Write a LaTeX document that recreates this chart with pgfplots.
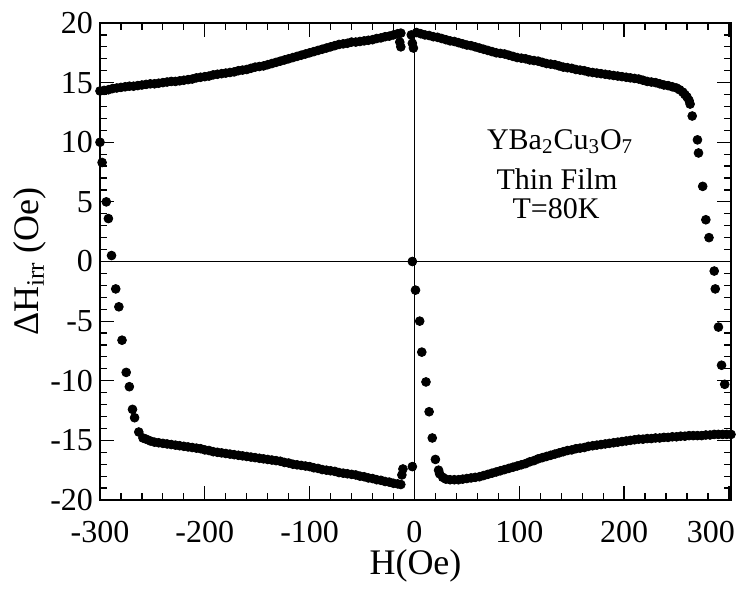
\documentclass[border=0pt]{standalone}
\usepackage{fontspec}
\setmainfont{Liberation Serif}
\usepackage{pgfplots}
\pgfplotsset{compat=1.18}
\begin{document}
\begin{tikzpicture}
\begin{axis}[
  scale only axis, width=315.5pt, height=238.5pt,
  xmin=-300, xmax=302, ymin=-20, ymax=20,
  xtick={-300,-200,...,300}, ytick={-20,-15,...,20},
  xticklabels={-300,-200,-100,0,100,200,300\hspace*{18pt}},
  minor x tick num=4, minor y tick num=4,
  tick align=inside, major tick length=7pt, minor tick length=3.5pt,
  axis line style={line width=0.8pt},
  every tick/.style={black, line width=0.6pt},
  /pgf/number format/assume math mode=true,
  ticklabel style={font=\fontsize{16}{19}\selectfont},
  xticklabel style={yshift=-7pt},
  xlabel={H(Oe)}, ylabel={ΔH\textsubscript{irr} (Oe)},
  label style={font=\fontsize{18}{21}\selectfont},
  xlabel style={at={(axis description cs:0.5,-0.138)}, anchor=center},
  ylabel style={at={(axis description cs:-0.111,0.5)}, anchor=center},
  clip=true,
]
\addplot[black, line width=0.5pt, forget plot] coordinates {(-300,0) (302,0)};
\addplot[black, line width=0.5pt, forget plot] coordinates {(0,-20) (0,20)};

% upper-left branch
\addplot[only marks, mark=*, mark size=2.2pt, black] coordinates {
(-300,14.3) (-296,14.35) (-292,14.4) (-288,14.5) (-284,14.55) (-280,14.6)
(-276,14.65) (-272,14.7) (-268,14.7) (-264,14.75) (-260,14.8) (-256,14.85)
(-252,14.9) (-248,14.9) (-244,14.95) (-240,15.0) (-236,15.05) (-232,15.1)
(-228,15.1) (-224,15.15) (-220,15.2) (-216,15.25) (-212,15.3) (-208,15.4)
(-204,15.45) (-200,15.5) (-196,15.55) (-192,15.65) (-188,15.7) (-184,15.75)
(-180,15.8) (-176,15.85) (-172,15.9) (-168,16.0) (-164,16.05) (-160,16.1)
(-156,16.2) (-152,16.3) (-148,16.35) (-144,16.4) (-140,16.5) (-136,16.6)
(-132,16.7) (-128,16.8) (-124,16.9) (-120,17.0) (-116,17.1) (-112,17.2)
(-108,17.3) (-104,17.4) (-100,17.5) (-96,17.6) (-92,17.7) (-88,17.8)
(-84,17.9) (-80,18.0) (-76,18.1) (-72,18.2) (-68,18.25) (-64,18.3)
(-60,18.4) (-56,18.4) (-52,18.45) (-48,18.5) (-44,18.55) (-40,18.6)
(-36,18.7) (-32,18.75) (-28,18.85) (-24,18.9) (-20,19.0) (-16,19.1) (-13,19.15)
(-13,18.0) (-14,18.4) (-3,19.0) (-2,18.3) (-1,17.9)
};
% upper-right branch and its drop
\addplot[only marks, mark=*, mark size=2.2pt, black] coordinates {
(2,19.2) (6,19.1) (10,19.0) (14,18.95) (18,18.85) (22,18.8) (26,18.7)
(30,18.6) (34,18.5) (38,18.45) (42,18.35) (46,18.25) (50,18.15) (54,18.1)
(58,18.0) (62,17.9) (66,17.8) (70,17.7) (74,17.6) (78,17.5) (82,17.45)
(86,17.4) (90,17.3) (94,17.2) (98,17.1) (102,17.05) (106,17.0) (110,16.9)
(114,16.85) (118,16.8) (122,16.7) (126,16.6) (130,16.55) (134,16.5)
(138,16.4) (142,16.3) (146,16.25) (150,16.2) (154,16.1) (158,16.05)
(162,16.0) (166,15.9) (170,15.85) (174,15.8) (178,15.75) (182,15.7)
(186,15.65) (190,15.6) (194,15.55) (198,15.5) (202,15.45) (206,15.4)
(210,15.35) (214,15.3) (218,15.2) (222,15.1) (226,15.05) (230,15.0)
(234,14.9) (238,14.8) (242,14.75) (246,14.65) (250,14.55) (253,14.4)
(256,14.2) (258,14.0) (260,13.8) (262,13.5) (263,13.2)
(265,12.2) (270,10.2) (271,9.1) (275,6.3) (278,3.5) (281,2.0)
(286,-0.8) (287,-2.3) (290,-5.5) (293,-8.7) (296,-10.3)
};
% lower-right branch
\addplot[only marks, mark=*, mark size=2.2pt, black] coordinates {
(-2,0) (1,-2.4) (5,-5.0) (7,-7.6) (11,-10.1) (14,-12.6) (17,-14.8)
(20,-16.6) (23,-17.5)
(24,-17.8) (27,-18.1) (30,-18.25) (34,-18.3) (38,-18.3) (42,-18.3)
(46,-18.25) (50,-18.2) (54,-18.15) (58,-18.1) (62,-18.05) (66,-17.95)
(70,-17.85) (74,-17.75) (78,-17.65) (82,-17.55) (86,-17.45) (90,-17.35)
(94,-17.25) (98,-17.15) (102,-17.05) (106,-16.95) (110,-16.8) (114,-16.7)
(118,-16.55) (122,-16.45) (126,-16.35) (130,-16.25) (134,-16.15) (138,-16.05)
(142,-15.95) (146,-15.85) (150,-15.8) (154,-15.7) (158,-15.65) (162,-15.6)
(166,-15.5) (170,-15.45) (174,-15.4) (178,-15.35) (182,-15.3) (186,-15.25)
(190,-15.2) (194,-15.15) (198,-15.1) (202,-15.05) (206,-15.0) (210,-14.95)
(214,-14.9) (218,-14.9) (222,-14.85) (226,-14.85) (230,-14.8) (234,-14.8)
(238,-14.75) (242,-14.75) (246,-14.7) (250,-14.7) (254,-14.65) (258,-14.65)
(262,-14.6) (266,-14.6) (270,-14.6) (274,-14.6) (278,-14.55) (282,-14.55)
(286,-14.5) (290,-14.5) (294,-14.5) (298,-14.5) (302,-14.5)
};
% lower-left branch and the drop from the upper-left
\addplot[only marks, mark=*, mark size=2.2pt, black] coordinates {
(-300,10.0) (-298,8.3) (-294,5.0) (-292,3.6)
(-289,0.5) (-285,-2.3) (-282,-3.8) (-279,-6.6) (-275,-9.3) (-272,-10.5)
(-269,-12.4) (-267,-13.1) (-263,-14.3) (-259,-14.8)
(-256,-14.9) (-252,-15.05) (-248,-15.15) (-244,-15.2) (-240,-15.25)
(-236,-15.3) (-232,-15.35) (-228,-15.4) (-224,-15.45) (-220,-15.5)
(-216,-15.55) (-212,-15.6) (-208,-15.65) (-204,-15.7) (-200,-15.8)
(-196,-15.85) (-192,-15.95) (-188,-16.0) (-184,-16.05) (-180,-16.1)
(-176,-16.15) (-172,-16.2) (-168,-16.25) (-164,-16.3) (-160,-16.35)
(-156,-16.4) (-152,-16.45) (-148,-16.5) (-144,-16.55) (-140,-16.6)
(-136,-16.65) (-132,-16.7) (-128,-16.75) (-124,-16.85) (-120,-16.9)
(-116,-17.0) (-112,-17.05) (-108,-17.1) (-104,-17.15) (-100,-17.2)
(-96,-17.3) (-92,-17.35) (-88,-17.45) (-84,-17.5) (-80,-17.55)
(-76,-17.6) (-72,-17.7) (-68,-17.75) (-64,-17.8) (-60,-17.85)
(-56,-17.9) (-52,-18.0) (-48,-18.05) (-44,-18.15) (-40,-18.2)
(-36,-18.3) (-32,-18.35) (-28,-18.45) (-24,-18.5) (-20,-18.6)
(-16,-18.65) (-13,-18.7)
(-11,-17.4) (-12,-17.9) (-2,-17.2)
};

\node[anchor=base, inner sep=0pt, font=\fontsize{15}{18}\selectfont] at (axis cs:139,9.4) {YBa\textsubscript{2}Cu\textsubscript{3}O\textsubscript{7}};
\node[anchor=base, inner sep=0pt, font=\fontsize{15}{18}\selectfont] at (axis cs:136,6.0) {Thin Film};
\node[anchor=base, inner sep=0pt, font=\fontsize{15}{18}\selectfont] at (axis cs:135,3.6) {T=80K};

\coordinate (sw) at (rel axis cs:0,0);
\coordinate (ne) at (rel axis cs:1,1);
\end{axis}
\pgfresetboundingbox
\path[use as bounding box] ([xshift=-50pt,yshift=-45.5pt]sw) rectangle ([xshift=3.5pt,yshift=11.5pt]ne);
\end{tikzpicture}
\end{document}
